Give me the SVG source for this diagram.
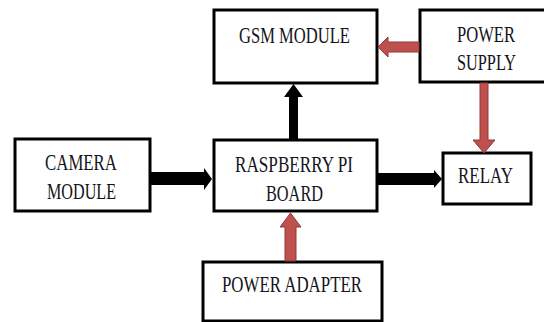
<svg xmlns="http://www.w3.org/2000/svg" width="544" height="322" viewBox="0 0 544 322">
<style>
.box{fill:#fff;stroke:#000;stroke-width:3}
.t{font-family:"Liberation Serif","Times New Roman",serif;font-size:23px;fill:#141420}
.red{fill:#c0504d;stroke:#8c3a37;stroke-width:1}
.blk{fill:#000}
</style>
<rect width="544" height="322" fill="#fff"/>
<g id="gsm">
<rect class="box" x="214" y="10" width="163" height="73"/>
<text class="t" x="239" y="43" textLength="111" lengthAdjust="spacingAndGlyphs">GSM MODULE</text>
</g>
<g id="power-supply">
<rect class="box" x="420" y="10" width="130" height="72"/>
<text class="t" x="457" y="42" textLength="58" lengthAdjust="spacingAndGlyphs">POWER</text>
<text class="t" x="457" y="70" textLength="59" lengthAdjust="spacingAndGlyphs">SUPPLY</text>
</g>
<g id="camera">
<rect class="box" x="15" y="139" width="135" height="72"/>
<text class="t" x="45" y="170" textLength="72" lengthAdjust="spacingAndGlyphs">CAMERA</text>
<text class="t" x="47" y="199" textLength="69" lengthAdjust="spacingAndGlyphs">MODULE</text>
</g>
<g id="raspberry">
<rect class="box" x="214" y="140" width="163" height="71"/>
<text class="t" x="235" y="172" textLength="118" lengthAdjust="spacingAndGlyphs">RASPBERRY PI</text>
<text class="t" x="266" y="201" textLength="57" lengthAdjust="spacingAndGlyphs">BOARD</text>
</g>
<g id="relay">
<rect class="box" x="443" y="153" width="88" height="51"/>
<text class="t" x="458" y="183" textLength="55" lengthAdjust="spacingAndGlyphs">RELAY</text>
</g>
<g id="power-adapter">
<rect class="box" x="203" y="262" width="179" height="59"/>
<text class="t" x="222" y="292" textLength="140" lengthAdjust="spacingAndGlyphs">POWER ADAPTER</text>
</g>
<g id="connectors">
<polygon class="blk" points="151,172 204,172 204,168 212,179 204,190 204,185 151,185"/>
<polygon class="blk" points="378,173 434,173 434,170 442,179 434,188 434,185 378,185"/>
<polygon class="blk" points="289,139 289,97 284,97 293.5,84 303,97 298,97 298,139"/>
<polygon class="red" points="419,42 388,42 388,37 378,47 388,57 388,52 419,52"/>
<polygon class="red" points="480,83 480,140 473,140 484,153 495,140 488,140 488,83"/>
<polygon class="red" points="285,261 285,227 280,227 290.5,213 301,227 296,227 296,261"/>
</g>
</svg>
